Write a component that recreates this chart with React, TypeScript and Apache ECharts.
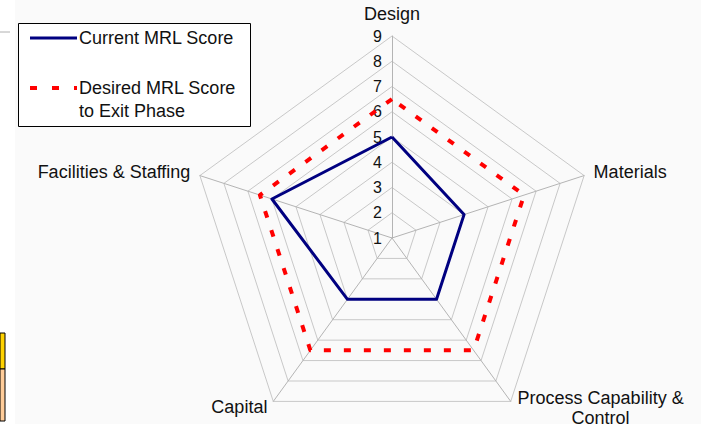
import React, { useEffect, useRef } from 'react';
import * as echarts from 'echarts';

const indicators = ['Design', 'Facilities & Staffing', 'Capital', 'Process Capability & Control', 'Materials'];
const currentScores = [5, 6, 4, 4, 4];
const desiredScores = [6.5, 6.5, 6.5, 6.5, 6.5];
const seriesNames = ['Current MRL Score', 'Desired MRL Score'];
const desiredSubtitle = 'to Exit Phase';
const axisMin = 1;
const axisMax = 9;

const FONT = '"Liberation Sans", Arial, sans-serif';
const NAME_COLOR = '#111';

function formatName(name: string): string {
  if (name === 'Process Capability & Control') return '{p|Process Capability &}\n{q|Control}';
  if (name === 'Design') return '{d|' + name + '}';
  if (name === 'Capital') return '{c|' + name + '}';
  return '{n|' + name + '}';
}

export default function App() {
  const ref = useRef<HTMLDivElement>(null);
  useEffect(() => {
    if (!ref.current) return;
    const chart = echarts.init(ref.current, null, { renderer: 'svg' });
    const base = { fontSize: 18, color: NAME_COLOR, fontFamily: FONT };
    chart.setOption({
      animation: false,
      backgroundColor: '#fafafa',
      textStyle: { fontFamily: FONT },
      radar: {
        center: [392, 238],
        radius: 202,
        startAngle: 90,
        splitNumber: axisMax - axisMin,
        shape: 'polygon',
        nameGap: 10,
        indicator: indicators.map((name, i) => ({
          name,
          min: axisMin,
          max: axisMax,
          ...(i === 0 ? { axisLabel: { show: true } } : {}),
        })),
        axisName: {
          color: NAME_COLOR,
          fontSize: 18,
          fontFamily: FONT,
          formatter: (name: string) => formatName(name),
          rich: {
            n: { ...base },
            d: { ...base, padding: [0, 0, 3, 0] },
            c: { ...base, padding: [0, 0, 6, 0] },
            p: { ...base, width: 168, align: 'center', lineHeight: 23 },
            q: { ...base, width: 168, align: 'center', lineHeight: 23, padding: [0, 0, 6, 0] },
          },
        },
        axisLine: { lineStyle: { color: '#b4b4b4', width: 1 } },
        splitLine: { lineStyle: { color: '#c8c8c8', width: 1 } },
        splitArea: { show: false },
        axisTick: { show: false },
        axisLabel: { show: false, color: NAME_COLOR, fontSize: 16, margin: 10, fontFamily: FONT },
      },
      series: [
        {
          type: 'radar',
          symbol: 'none',
          data: [
            { name: seriesNames[1], value: desiredScores, lineStyle: { color: '#ff0000', width: 4, type: [7, 13] } },
            { name: seriesNames[0], value: currentScores, lineStyle: { color: '#000080', width: 3 } },
          ],
        },
      ],
      graphic: [
        { type: 'rect', shape: { x: 0, y: 0, width: 15, height: 424 }, style: { fill: '#ffffff' }, silent: true },
        { type: 'line', shape: { x1: 0, y1: 32, x2: 10, y2: 32 }, style: { stroke: '#b0b0b0', lineWidth: 1 }, silent: true },
        { type: 'rect', shape: { x: 0, y: 333, width: 5, height: 36 }, style: { fill: '#ffd200', stroke: '#000', lineWidth: 1 }, silent: true },
        { type: 'rect', shape: { x: 0, y: 369, width: 5, height: 52 }, style: { fill: '#ffcc99', stroke: '#000', lineWidth: 1 }, silent: true },
        {
          type: 'group',
          children: [
            { type: 'rect', shape: { x: 18.5, y: 23.5, width: 232, height: 103 }, style: { fill: '#ffffff', stroke: '#000', lineWidth: 1 } },
            { type: 'line', shape: { x1: 30, y1: 38, x2: 77, y2: 38 }, style: { stroke: '#000080', lineWidth: 3 } },
            { type: 'text', x: 79, y: 38, style: { text: seriesNames[0], fill: NAME_COLOR, font: `18px ${FONT}`, verticalAlign: 'middle', align: 'left' } },
            { type: 'line', shape: { x1: 30, y1: 88, x2: 77, y2: 88 }, style: { stroke: '#ff0000', lineWidth: 4, lineDash: [7, 15] } },
            { type: 'text', x: 79, y: 88, style: { text: seriesNames[1], fill: NAME_COLOR, font: `18px ${FONT}`, verticalAlign: 'middle', align: 'left' } },
            { type: 'text', x: 79, y: 111, style: { text: desiredSubtitle, fill: NAME_COLOR, font: `18px ${FONT}`, verticalAlign: 'middle', align: 'left' } },
          ],
        },
      ],
    });
    return () => chart.dispose();
  }, []);
  return <div ref={ref} style={{ position: 'absolute', left: 0, top: 0, width: 701, height: 424 }} />;
}
